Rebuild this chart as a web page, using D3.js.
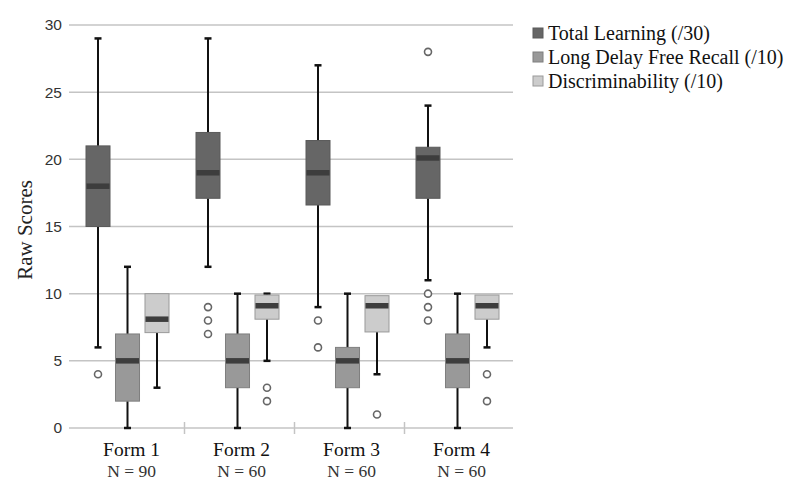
<!DOCTYPE html>
<html>
<head>
<meta charset="utf-8">
<script src="https://cdn.jsdelivr.net/npm/d3@7"></script>
<style>
  body { margin: 0; background: #fff; }
  svg { display: block; }
</style>
</head>
<body>
<div id="chart"></div>
<script>
// forms along x, with sample sizes
const forms = ['Form 1', 'Form 2', 'Form 3', 'Form 4'];
const formN = ['N = 90', 'N = 60', 'N = 60', 'N = 60'];
const seriesNames = ['Total Learning (/30)', 'Long Delay Free Recall (/10)', 'Discriminability (/10)'];
const yTicks = [0, 5, 10, 15, 20, 25, 30];

// box stats per form: [low whisker, q1, median, q3, high whisker]
const totalLearning = [
  [6, 15, 18, 21, 29],
  [12, 17.1, 19, 22, 29],
  [9, 16.6, 19, 21.4, 27],
  [11, 17.1, 20.1, 20.9, 24]
];
const longDelay = [
  [0, 2, 5, 7, 12],
  [0, 3, 5, 7, 10],
  [0, 3, 5, 6, 10],
  [0, 3, 5, 7, 10]
];
const discrim = [
  [3, 7.1, 8.1, 10, 10],
  [5, 8.1, 9.1, 9.9, 10],
  [4, 7.15, 9.1, 9.85, 9.85],
  [6, 8.1, 9.1, 9.9, 9.9]
];
// outliers per form
const tlOutliers = [[4], [9, 8, 7], [8, 6], [28, 10, 9, 8]];
const ldOutliers = [[], [], [], []];
const dcOutliers = [[], [3, 2], [1], [4, 2]];

const width = 800, height = 494;
const margin = {top: 25, right: 287, bottom: 66, left: 69};

const svg = d3.select('#chart').append('svg')
    .attr('width', width)
    .attr('height', height);

const y = d3.scaleLinear()
    .domain([0, 30])
    .range([height - margin.bottom, margin.top]);

const x = d3.scaleBand()
    .domain(forms)
    .range([74.5, 514.5]);

// offsets of the three boxes inside a form
const sub = d3.scaleBand()
    .domain(seriesNames)
    .range([-43.5, 39.5])
    .paddingInner(0.186);

const fills = ['#666666', '#999999', '#cccccc'];
const strokes = ['#5a5a5a', '#7f7f7f', '#9a9a9a'];
const serif = '"Liberation Serif", "Times New Roman", serif';

// gridlines
svg.append('g')
    .selectAll('line')
    .data(yTicks.slice(1))
    .join('line')
    .attr('x1', margin.left)
    .attr('x2', width - margin.right)
    .attr('y1', d => y(d))
    .attr('y2', d => y(d))
    .style('stroke', '#c4c4c4')
    .style('stroke-width', 1.5);

// baseline + divider ticks
svg.append('line')
    .attr('x1', margin.left)
    .attr('x2', width - margin.right)
    .attr('y1', y(0))
    .attr('y2', y(0))
    .style('stroke', '#c4c4c4')
    .style('stroke-width', 1.5);

svg.append('g')
    .selectAll('line')
    .data(forms.slice(1))
    .join('line')
    .attr('x1', d => x(d))
    .attr('x2', d => x(d))
    .attr('y1', y(0) - 6)
    .attr('y2', y(0) + 6)
    .style('stroke', '#c4c4c4')
    .style('stroke-width', 1.5);

// y tick labels
svg.append('g')
    .selectAll('text')
    .data(yTicks)
    .join('text')
    .attr('x', 62)
    .attr('y', d => y(d))
    .attr('dy', '0.35em')
    .attr('text-anchor', 'end')
    .style('font-family', '"Liberation Sans", Arial, sans-serif')
    .style('font-size', '15.5px')
    .style('fill', '#333')
    .text(d => d);

// y axis title
svg.append('text')
    .attr('transform', `translate(32,${230}) rotate(-90)`)
    .attr('text-anchor', 'middle')
    .style('font-family', serif)
    .style('font-size', '21px')
    .style('fill', '#222')
    .text('Raw Scores');

// x labels
const xl = svg.append('g')
    .selectAll('g')
    .data(forms)
    .join('g')
    .attr('transform', d => `translate(${x(d) + x.bandwidth() / 2 + 2},0)`);

xl.append('text')
    .attr('y', 456)
    .attr('text-anchor', 'middle')
    .style('font-family', serif)
    .style('font-size', '19.5px')
    .style('fill', '#111')
    .text(d => d);

xl.append('text')
    .attr('y', 477)
    .attr('text-anchor', 'middle')
    .style('font-family', serif)
    .style('font-size', '17.5px')
    .style('fill', '#333')
    .text((d, i) => formN[i]);

// boxes
const allStats = [totalLearning, longDelay, discrim];
const allOutliers = [tlOutliers, ldOutliers, dcOutliers];

const boxData = [];
forms.forEach((f, fi) => {
    seriesNames.forEach((s, si) => {
        const st = allStats[si][fi];
        boxData.push({
            form: f, series: si, name: s,
            lo: st[0], q1: st[1], med: st[2], q3: st[3], hi: st[4],
            outliers: allOutliers[si][fi]
        });
    });
});

const bw = sub.bandwidth();
const capW = 7;

const box = svg.append('g')
    .selectAll('g')
    .data(boxData)
    .join('g')
    .attr('transform', d => `translate(${x(d.form) + x.bandwidth() / 2 + sub(d.name)},0)`);

// whiskers
box.append('line')
    .attr('x1', bw / 2).attr('x2', bw / 2)
    .attr('y1', d => y(d.hi)).attr('y2', d => y(d.q3))
    .style('stroke', '#111').style('stroke-width', 2);
box.append('line')
    .attr('x1', bw / 2).attr('x2', bw / 2)
    .attr('y1', d => y(d.q1)).attr('y2', d => y(d.lo))
    .style('stroke', '#111').style('stroke-width', 2);
box.filter(d => d.hi > d.q3).append('line')
    .attr('x1', bw / 2 - capW / 2).attr('x2', bw / 2 + capW / 2)
    .attr('y1', d => y(d.hi)).attr('y2', d => y(d.hi))
    .style('stroke', '#111').style('stroke-width', 2.5);
box.append('line')
    .attr('x1', bw / 2 - capW / 2).attr('x2', bw / 2 + capW / 2)
    .attr('y1', d => y(d.lo)).attr('y2', d => y(d.lo))
    .style('stroke', '#111').style('stroke-width', 2.5);

// box body
box.append('rect')
    .attr('x', 0)
    .attr('width', bw)
    .attr('y', d => y(d.q3))
    .attr('height', d => y(d.q1) - y(d.q3))
    .style('fill', d => fills[d.series])
    .style('stroke', d => strokes[d.series])
    .style('stroke-width', 1);

// median
box.append('line')
    .attr('x1', 0.5).attr('x2', bw - 0.5)
    .attr('y1', d => y(d.med)).attr('y2', d => y(d.med))
    .style('stroke', '#3d3d3d')
    .style('stroke-width', 5.5);

// outliers
box.selectAll('circle')
    .data(d => d.outliers)
    .join('circle')
    .attr('cx', bw / 2)
    .attr('cy', d => y(d))
    .attr('r', 3.5)
    .style('fill', '#fff')
    .style('stroke', '#666')
    .style('stroke-width', 1.6);

// legend
const legend = svg.append('g')
    .selectAll('g')
    .data(seriesNames)
    .join('g')
    .attr('transform', (d, i) => `translate(533,${28 + i * 24})`);

legend.append('rect')
    .attr('width', 10)
    .attr('height', 10)
    .style('fill', (d, i) => fills[i])
    .style('stroke', (d, i) => strokes[i])
    .style('stroke-width', 1);

legend.append('text')
    .attr('x', 15)
    .attr('y', 5)
    .attr('dy', '0.36em')
    .style('font-family', serif)
    .style('font-size', '20px')
    .style('fill', '#111')
    .text(d => d);
</script>
</body>
</html>
